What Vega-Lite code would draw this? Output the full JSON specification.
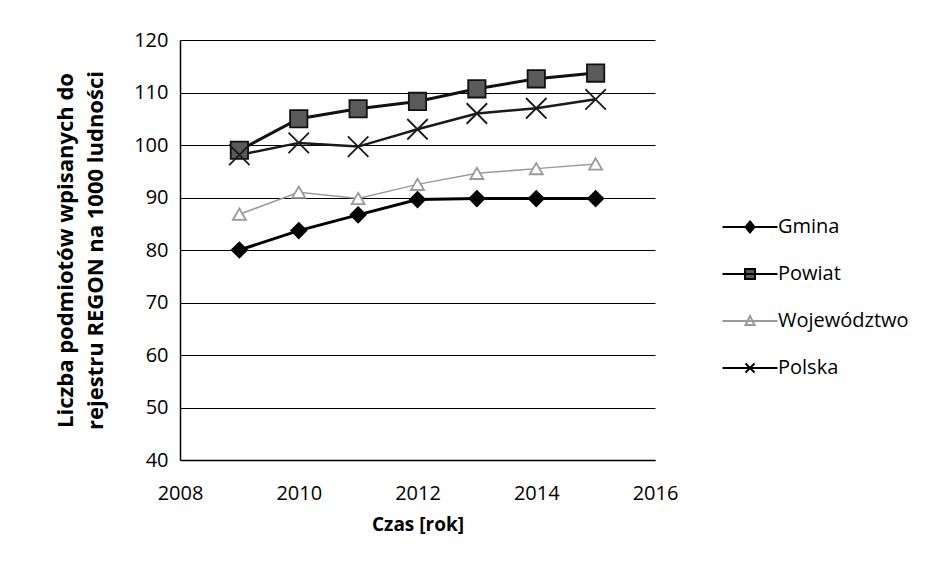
{
  "$schema": "https://vega.github.io/schema/vega-lite/v6.json",
  "width": 475,
  "height": 420,
  "autosize": "none",
  "padding": {"left": 180, "top": 40, "right": 291, "bottom": 117},
  "background": "white",
  "config": {
    "font": "Open Sans",
    "view": {"stroke": null},
    "axis": {"labelFont": "Open Sans", "titleFont": "Open Sans", "labelColor": "#000", "titleColor": "#000"},
    "legend": {"labelFont": "Open Sans"}
  },
  "data": {
    "values": [
      {"rok": 2009, "seria": "Gmina", "wartosc": 80},
      {"rok": 2010, "seria": "Gmina", "wartosc": 83.7},
      {"rok": 2011, "seria": "Gmina", "wartosc": 86.7},
      {"rok": 2012, "seria": "Gmina", "wartosc": 89.6},
      {"rok": 2013, "seria": "Gmina", "wartosc": 89.8},
      {"rok": 2014, "seria": "Gmina", "wartosc": 89.8},
      {"rok": 2015, "seria": "Gmina", "wartosc": 89.8},
      {"rok": 2009, "seria": "Powiat", "wartosc": 99},
      {"rok": 2010, "seria": "Powiat", "wartosc": 105},
      {"rok": 2011, "seria": "Powiat", "wartosc": 106.9},
      {"rok": 2012, "seria": "Powiat", "wartosc": 108.3},
      {"rok": 2013, "seria": "Powiat", "wartosc": 110.7},
      {"rok": 2014, "seria": "Powiat", "wartosc": 112.6},
      {"rok": 2015, "seria": "Powiat", "wartosc": 113.7},
      {"rok": 2009, "seria": "Województwo", "wartosc": 86.8},
      {"rok": 2010, "seria": "Województwo", "wartosc": 91},
      {"rok": 2011, "seria": "Województwo", "wartosc": 89.8},
      {"rok": 2012, "seria": "Województwo", "wartosc": 92.5},
      {"rok": 2013, "seria": "Województwo", "wartosc": 94.6},
      {"rok": 2014, "seria": "Województwo", "wartosc": 95.5},
      {"rok": 2015, "seria": "Województwo", "wartosc": 96.4},
      {"rok": 2009, "seria": "Polska", "wartosc": 98.1},
      {"rok": 2010, "seria": "Polska", "wartosc": 100.4},
      {"rok": 2011, "seria": "Polska", "wartosc": 99.7},
      {"rok": 2012, "seria": "Polska", "wartosc": 103},
      {"rok": 2013, "seria": "Polska", "wartosc": 106},
      {"rok": 2014, "seria": "Polska", "wartosc": 107},
      {"rok": 2015, "seria": "Polska", "wartosc": 108.7}
    ]
  },
  "encoding": {
    "x": {
      "field": "rok", "type": "quantitative",
      "scale": {"domain": [2008, 2016], "nice": false, "zero": false},
      "axis": {
        "title": "Czas [rok]", "titleFontSize": 19, "titleFontWeight": "bold", "titlePadding": 12,
        "values": [2008, 2010, 2012, 2014, 2016], "format": "d",
        "labelFontSize": 20, "labelPadding": 23, "ticks": false, "grid": false,
        "domainColor": "#000", "domainWidth": 1.5, "labelFlush": false
      }
    },
    "y": {
      "field": "wartosc", "type": "quantitative",
      "scale": {"domain": [40, 120], "nice": false, "zero": false},
      "axis": {
        "title": ["Liczba podmiotów  wpisanych do", "rejestru REGON na 1000 ludności"],
        "titleFontSize": 22, "titleFontWeight": "bold", "titlePadding": 26, "titleLineHeight": 30,
        "values": [40, 50, 60, 70, 80, 90, 100, 110, 120],
        "labelFontSize": 20, "labelPadding": 12, "ticks": false,
        "grid": true, "gridColor": "#000", "gridWidth": 1.2, "gridOpacity": 1,
        "domainColor": "#000", "domainWidth": 1.5
      }
    }
  },
  "layer": [
    {
      "mark": {"type": "line"},
      "encoding": {
        "detail": {"field": "seria"},
        "stroke": {
          "field": "seria", "type": "nominal",
          "scale": {"domain": ["Polska", "Gmina", "Powiat", "Województwo"], "range": ["#1a1a1a", "#000000", "#111111", "#9a9a9a"]},
          "legend": null
        },
        "strokeWidth": {
          "field": "seria", "type": "nominal",
          "scale": {"type": "ordinal", "domain": ["Powiat", "Województwo", "Polska", "Gmina"], "range": [3, 1.5, 2.5, 3]},
          "legend": null
        }
      }
    },
    {
      "mark": {"type": "point", "filled": false, "opacity": 1, "strokeWidth": 1.8},
      "encoding": {
        "shape": {
          "field": "seria", "type": "nominal",
          "scale": {"domain": ["Województwo", "Gmina", "Polska", "Powiat"], "range": ["triangle-up", "diamond", "M-1,-1L1,1M1,-1L-1,1", "square"]},
          "legend": null
        },
        "fill": {
          "field": "seria", "type": "nominal",
          "scale": {"domain": ["Gmina", "Powiat", "Województwo", "Polska"], "range": ["#000000", "#5a5a5a", "#ffffff", "transparent"]},
          "legend": {
            "title": null, "orient": "none", "legendX": 560, "legendY": 177,
            "labelFontSize": 20, "labelColor": "#000", "labelOffset": 18,
            "rowPadding": 27, "symbolSize": 100, "symbolStrokeWidth": 2,
            "encoding": {
              "symbols": {
                "shape": {"value": {"expr": "datum.value === 'Gmina' ? 'M-5.5,0L5.5,0M0,-1.1L0.9,0L0,1.1L-0.9,0Z' : datum.value === 'Powiat' ? 'M-5.5,0L5.5,0M-1,-1L1,-1L1,1L-1,1Z' : datum.value === 'Województwo' ? 'M-5.5,0L5.5,0M0,-1L0.9,0.8L-0.9,0.8Z' : 'M-5.5,0L5.5,0M-0.9,-0.9L0.9,0.9M0.9,-0.9L-0.9,0.9'"}},
                "fill": {"value": {"expr": "datum.value === 'Gmina' ? '#000' : datum.value === 'Powiat' ? '#666' : datum.value === 'Województwo' ? '#fff' : 'transparent'"}},
                "stroke": {"value": {"expr": "datum.value === 'Województwo' ? '#9a9a9a' : '#000'"}},
                "strokeWidth": {"value": 2},
                "opacity": {"value": 1}
              }
            }
          }
        },
        "stroke": {
          "field": "seria", "type": "nominal",
          "legend": null
        },
        "size": {
          "field": "seria", "type": "nominal",
          "scale": {"type": "ordinal", "domain": ["Powiat", "Gmina", "Polska", "Województwo"], "range": [300, 230, 420, 170]},
          "legend": null
        }
      }
    }
  ]
}
